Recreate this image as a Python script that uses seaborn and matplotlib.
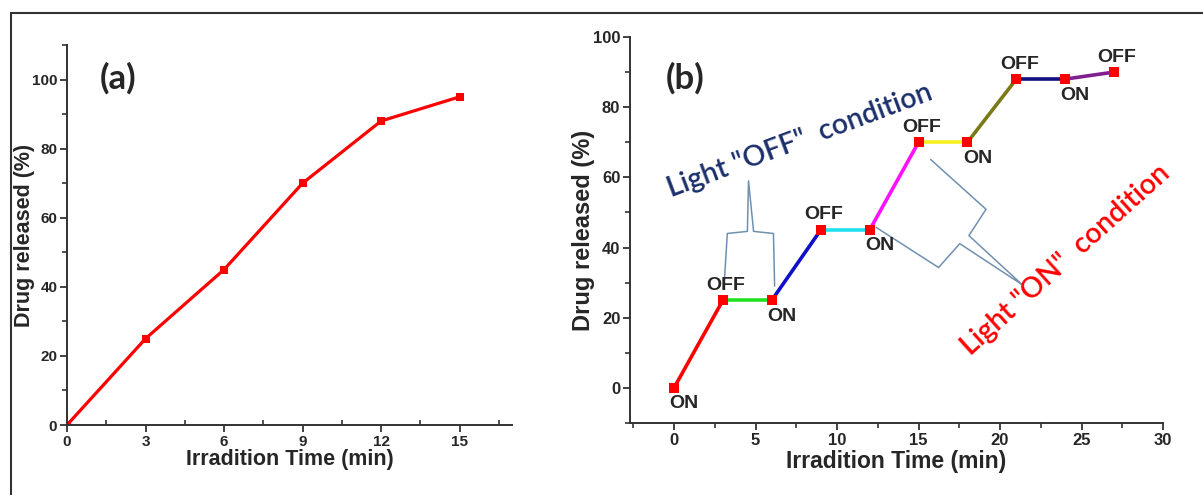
import numpy as np
import pandas as pd
import matplotlib
matplotlib.use('Agg')
import matplotlib.pyplot as plt
from matplotlib.lines import Line2D
from matplotlib.ticker import MultipleLocator
import seaborn as sns

# dados do painel (a)
tempo_a = [0, 3, 6, 9, 12, 15]
liberado_a = [0, 25, 45, 70, 88, 95]

# dados do painel (b)
tempo_b = [0, 3, 6, 9, 12, 15, 18, 21, 24, 27]
liberado_b = [0, 25, 25, 45, 45, 70, 70, 88, 88, 90]
estados_b = ['ON', 'OFF', 'ON', 'OFF', 'ON', 'OFF', 'ON', 'OFF', 'ON', 'OFF']
cores_seg = ['#ff0000', '#22e022', '#1010c8', '#20e0f0', '#ff10ff',
             '#f8f020', '#7a7a18', '#101080', '#802090']

# chaves (anotações) em coordenadas de dados do painel (b)
chave_off_x = [3.09, 3.27, 4.5, 4.57, 4.88, 6.1, 6.17]
chave_off_y = [30.6, 44.0, 44.6, 59.0, 44.6, 44.0, 29.0]
chave_on_x = [12.41, 16.23, 17.53, 21.36, 18.09, 19.14, 15.74]
chave_on_y = [45.7, 34.3, 41.1, 29.4, 43.4, 50.9, 65.1]

sns.set_style('ticks')
plt.rcParams['font.family'] = ['Liberation Sans', 'DejaVu Sans']
plt.rcParams['font.weight'] = 'bold'

fig = plt.figure(figsize=(12.03, 4.95), dpi=100)
ax_a = fig.add_axes([0.0557, 0.1414, 0.3699, 0.7677])
ax_b = fig.add_axes([0.5237, 0.1455, 0.4431, 0.7798])

# moldura
fig.add_artist(Line2D([0.0091, 0.0091], [0, 0.9737], color='#333333', lw=1.5))
fig.add_artist(Line2D([0.0091, 1.0], [0.9737, 0.9737], color='#333333', lw=1.5))

calibri = ['Lato', 'DejaVu Sans']

# --- painel (a)
df_a = pd.DataFrame({'tempo': tempo_a, 'liberado': liberado_a})
sns.lineplot(data=df_a, x='tempo', y='liberado', ax=ax_a, color='#ff0000',
             lw=2.3, marker='s', markersize=6, markeredgewidth=0, legend=False)
ax_a.set_xlim(0, 17)
ax_a.set_ylim(0, 110)
ax_a.xaxis.set_major_locator(MultipleLocator(3))
ax_a.xaxis.set_minor_locator(MultipleLocator(1.5))
ax_a.yaxis.set_major_locator(MultipleLocator(20))
ax_a.yaxis.set_minor_locator(MultipleLocator(10))
ax_a.text(0.115, 0.913, '(a)', transform=ax_a.transAxes, fontsize=25,
          fontweight='bold', family=calibri, ha='center', va='center')
ax_a.set_xlabel('Irradition Time (min)', fontsize=15.5, fontweight='bold', labelpad=0)
ax_a.set_ylabel('Drug released (%)', fontsize=15.5, fontweight='bold')
ax_a.yaxis.set_label_coords(-0.071, 0.5)

# --- painel (b)
linhas = []
for i in range(len(tempo_b) - 1):
    linhas.append({'tempo': tempo_b[i], 'liberado': liberado_b[i], 'seg': i})
    linhas.append({'tempo': tempo_b[i + 1], 'liberado': liberado_b[i + 1], 'seg': i})
df_seg = pd.DataFrame(linhas)
sns.lineplot(data=df_seg, x='tempo', y='liberado', hue='seg', palette=cores_seg,
             ax=ax_b, lw=2.6, legend=False, estimator=None, sort=False)
df_b = pd.DataFrame({'tempo': tempo_b, 'liberado': liberado_b})
sns.scatterplot(data=df_b, x='tempo', y='liberado', ax=ax_b, marker='s',
                s=42, color='#ff0000', linewidth=0, zorder=5, legend=False)
for xv, yv, est in zip(tempo_b, liberado_b, estados_b):
    if est == 'ON':
        off = (10, -16)
    else:
        off = (3, 15)
    ax_b.annotate(est, (xv, yv), xytext=off, textcoords='offset pixels',
                  ha='center', va='center', fontsize=14, fontweight='bold')

ax_b.plot(chave_off_x, chave_off_y, color='#7090b0', lw=1.1)
ax_b.plot(chave_on_x, chave_on_y, color='#7090b0', lw=1.1)

ax_b.text(7.7, 70.5, 'Light "OFF"  condition', rotation=20.5, rotation_mode='anchor',
          ha='center', va='center', fontsize=20.5, fontweight='semibold',
          color='#1a2f6a', family=calibri)
ax_b.text(24.0, 36.5, 'Light "ON"  condition', rotation=42, rotation_mode='anchor',
          ha='center', va='center', fontsize=20.5, fontweight='semibold',
          color='#ff0000', family=calibri)
ax_b.text(0.103, 0.894, '(b)', transform=ax_b.transAxes, fontsize=25,
          fontweight='bold', family=calibri, ha='center', va='center')

ax_b.set_xlim(-2.7, 30)
ax_b.set_ylim(-10, 100)
ax_b.xaxis.set_major_locator(MultipleLocator(5))
ax_b.xaxis.set_minor_locator(MultipleLocator(2.5))
ax_b.yaxis.set_major_locator(MultipleLocator(20))
ax_b.yaxis.set_minor_locator(MultipleLocator(10))
ax_b.set_xlabel('Irradition Time (min)', fontsize=16.5, fontweight='bold', labelpad=2)
ax_b.set_ylabel('Drug released (%)', fontsize=17, fontweight='bold')
ax_b.yaxis.set_label_coords(-0.065, 0.5)

for ax in (ax_a, ax_b):
    sns.despine(ax=ax)
    for s in ('left', 'bottom'):
        ax.spines[s].set_linewidth(1.4)
        ax.spines[s].set_color('#333333')
    ax.tick_params(which='major', length=5, width=1.3, labelsize=12,
                   color='#333333', pad=2)
    ax.tick_params(which='minor', length=3.5, width=1.2, color='#333333')
    for lab in ax.get_xticklabels() + ax.get_yticklabels():
        lab.set_fontweight('bold')
ax_a.tick_params(which='major', labelsize=11)
ax_a.tick_params(which='minor', axis='x', direction='in')

fig.savefig('out.png', dpi=100)
